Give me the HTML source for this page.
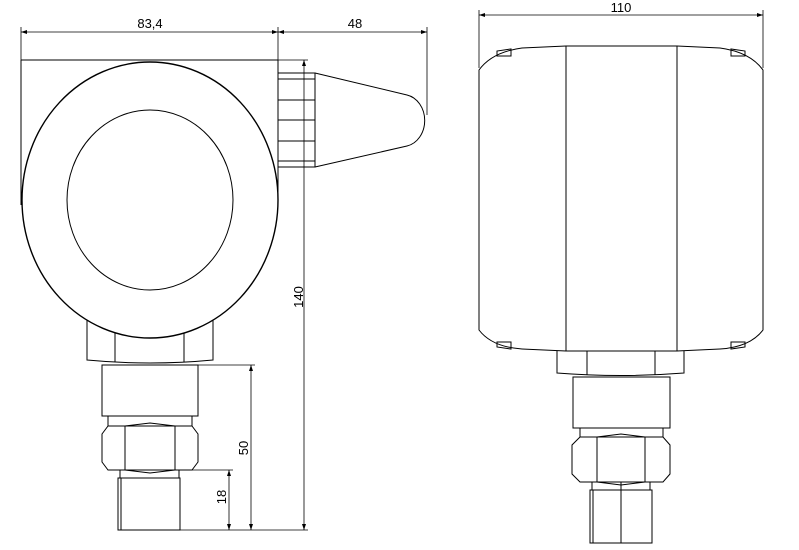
<!DOCTYPE html>
<html><head><meta charset="utf-8"><style>html,body{margin:0;padding:0;background:#fff}svg{display:block}</style></head>
<body>
<svg width="799" height="550" viewBox="0 0 799 550" xmlns="http://www.w3.org/2000/svg" fill="none" stroke="#000" stroke-width="1">
<g font-family="Liberation Sans, sans-serif" font-size="13" fill="#000" stroke="none">
<text x="150" y="28" text-anchor="middle">83,4</text>
<text x="355" y="28" text-anchor="middle">48</text>
<text x="621" y="12" text-anchor="middle">110</text>
<text transform="translate(303,297) rotate(-90)" text-anchor="middle">140</text>
<text transform="translate(248,448) rotate(-90)" text-anchor="middle">50</text>
<text transform="translate(226,497) rotate(-90)" text-anchor="middle">18</text>
</g>
<g stroke-width="0.8">
<line x1="21" y1="32" x2="427" y2="32"/>
<line x1="21" y1="27" x2="21" y2="60"/>
<line x1="278" y1="27" x2="278" y2="60"/>
<line x1="427" y1="27" x2="427" y2="115"/>
<line x1="278" y1="60" x2="308" y2="60"/>
<line x1="304" y1="60" x2="304" y2="530"/>
<line x1="180" y1="530" x2="308" y2="530"/>
<line x1="198" y1="365" x2="255" y2="365"/>
<line x1="251" y1="365" x2="251" y2="530"/>
<line x1="179" y1="470" x2="233" y2="470"/>
<line x1="229" y1="470" x2="229" y2="530"/>
<line x1="479" y1="15" x2="763" y2="15"/>
<line x1="479" y1="10" x2="479" y2="68"/>
<line x1="763" y1="10" x2="763" y2="68"/>
</g>
<g fill="#000" stroke="none">
<path d="M21 32l6-2v4z M278 32l-6-2v4z M278 32l6-2v4z M427 32l-6-2v4z"/>
<path d="M479 15l6-2v4z M763 15l-6-2v4z"/>
<path d="M304 60l-2 6h4z M304 530l-2-6h4z M251 365l-2 6h4z M251 530l-2-6h4z M229 470l-2 6h4z M229 530l-2-6h4z"/>
</g>
<line x1="21" y1="60" x2="278" y2="60"/>
<line x1="21" y1="60" x2="21" y2="205"/>
<line x1="278" y1="60" x2="278" y2="200"/>
<path d="M87 318 V360 Q150 366 213 360 V318"/>
<line x1="115" y1="330" x2="115" y2="362"/>
<line x1="184" y1="330" x2="184" y2="362"/>
<ellipse cx="150" cy="200" rx="128" ry="138" fill="#fff" stroke-width="1.4"/>
<ellipse cx="150" cy="200" rx="83" ry="90"/>
<rect x="278" y="73" width="37" height="94"/>
<path d="M278 79H315M278 100H315M278 120H315M278 141H315M278 161H315"/>
<path d="M315 73 L407 95 A22 26 0 0 1 407 146 L315 167"/>
<rect x="102" y="365" width="96" height="51"/>
<rect x="108" y="416" width="84" height="10"/>
<path d="M108 426 L125 426 L150 423 L175 426 L192 426 L198 434 V462 L192 470 L175 470 L150 473 L125 470 L108 470 L102 462 V434 Z"/>
<path d="M125 426 V470 M175 426 V470"/>
<rect x="120" y="470" width="59" height="8"/>
<rect x="118" y="478" width="62" height="52"/>
<line x1="121" y1="478" x2="121" y2="530"/>
<path d="M566 46 H677 L720 48 Q750 52 763 70 V330 Q750 347 720 349 L677 351 H566 L522 349 Q492 347 479 330 V70 Q492 52 522 48 Z"/>
<line x1="566" y1="46" x2="566" y2="351"/>
<line x1="677" y1="46" x2="677" y2="351"/>
<path d="M497 56 V51 L511 49 V56 Z M745 56 V51 L731 49 V56 Z M497 342 V347 L511 349 V342 Z M745 342 V347 L731 349 V342 Z"/>
<path d="M557 351 V373 Q621 378 684 373 V351"/>
<line x1="587" y1="351" x2="587" y2="375"/>
<line x1="655" y1="351" x2="655" y2="375"/>
<rect x="573" y="377" width="97" height="51"/>
<rect x="580" y="428" width="83" height="9"/>
<path d="M580 437 L597 437 L621 434 L645 437 L663 437 L670 445 V474 L663 482 L645 482 L621 485 L597 482 L580 482 L572 474 V445 Z"/>
<path d="M597 437 V482 M645 437 V482"/>
<rect x="592" y="482" width="58" height="8"/>
<rect x="590" y="490" width="62" height="53"/>
<line x1="593" y1="490" x2="593" y2="543"/>
<line x1="621" y1="482" x2="621" y2="543"/>
</svg>
</body></html>
